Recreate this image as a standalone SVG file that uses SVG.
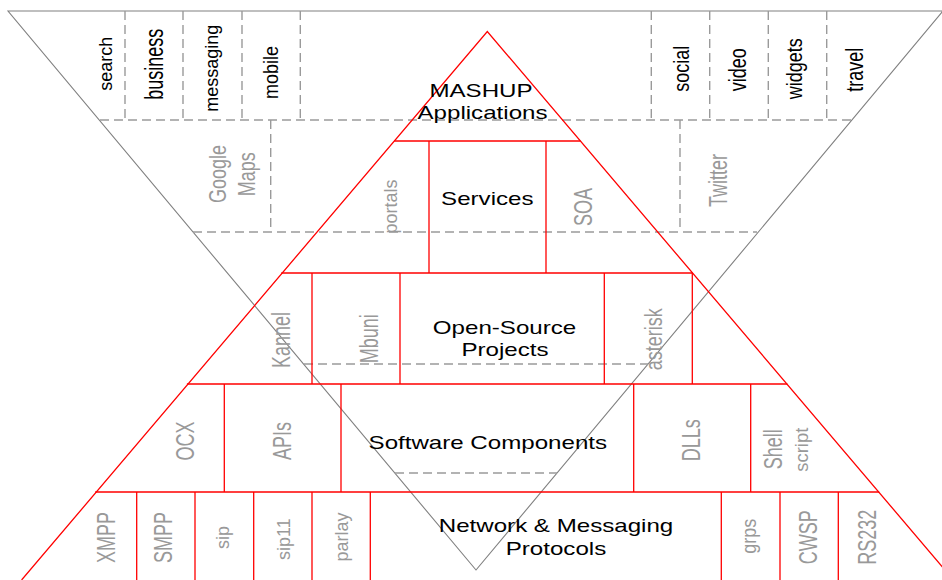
<svg xmlns="http://www.w3.org/2000/svg" width="942" height="580" viewBox="0 0 942 580">
<style>
.red{stroke:#ff0000;stroke-width:1.3;fill:none}
.inv{stroke:#808080;stroke-width:1.1;fill:none}
.dash{stroke:#9a9a9a;stroke-width:1.4;stroke-dasharray:9 5;fill:none}
text{font-family:"Liberation Sans",Arial,Helvetica,sans-serif;font-size:18px;text-anchor:middle}
.blk{fill:#000}
.gry{fill:#999}
</style>
<rect width="942" height="580" fill="#fff"/>
<g id="inverted-triangle">
<path class="inv" d="M8,11 L943,11 L476,570 Z"/>
</g>
<g id="inverted-dividers">
<path class="dash" d="M100,120 H852 M193,232 H757 M304,364 H648 M395,473 H557"/>
<path class="dash" d="M125,11 V120 M183,11 V120 M242,11 V120 M300.3,11 V120 M651.3,11 V120 M709.7,11 V120 M768.3,11 V120 M826.7,11 V120 M270.7,120 V232 M680,120 V232"/>
</g>
<g id="pyramid">
<path class="red" d="M21.6,580 L487.3,31.5 L953.5,580"/>
<path class="red" d="M394.3,141 H580.5 M281.3,273 H692.6 M186.9,384 H787.4 M95.2,492 H879.2"/>
<path class="red" d="M429,141 V273 M546,141 V273 M312,273 V384 M400,273 V384 M604.3,273 V384 M692.3,273 V384 M224.3,384 V492 M341,384 V492 M633.7,384 V492 M750.7,384 V492 M136.7,492 V580 M195,492 V580 M253.7,492 V580 M312,492 V580 M370.3,492 V580 M721.3,492 V580 M780,492 V580 M838.3,492 V580"/>
</g>
<g id="layer-mashup">
<text class="blk" transform="translate(481,97.3) scale(1.34,1)">MASHUP</text>
<text class="blk" transform="translate(482.5,118.5) scale(1.34,1)">Applications</text>
</g>
<g id="layer-services">
<text class="blk" transform="translate(487.3,205) scale(1.34,1)">Services</text>
</g>
<g id="layer-opensource">
<text class="blk" transform="translate(504.5,334.3) scale(1.34,1)">Open-Source</text>
<text class="blk" transform="translate(505,355.5) scale(1.34,1)">Projects</text>
</g>
<g id="layer-software">
<text class="blk" transform="translate(487.8,449) scale(1.34,1)">Software Components</text>
</g>
<g id="layer-network">
<text class="blk" transform="translate(556,531.7) scale(1.34,1)">Network &amp; Messaging</text>
<text class="blk" transform="translate(556,555) scale(1.34,1)">Protocols</text>
</g>
<g id="mashup-topics">
<text class="blk" transform="translate(112,63.8) scale(1.05,1) rotate(-90)">search</text>
<text class="blk" transform="translate(163.3,64.2) scale(1.43,1) rotate(-90)">business</text>
<text class="blk" transform="translate(218,68.2) scale(1.05,1) rotate(-90)">messaging</text>
<text class="blk" transform="translate(277.7,72.5) scale(1.1,1) rotate(-90)">mobile</text>
<text class="blk" transform="translate(689.3,68.8) scale(1.24,1) rotate(-90)">social</text>
<text class="blk" transform="translate(746,69.7) scale(1.37,1) rotate(-90)">video</text>
<text class="blk" transform="translate(802.2,68.8) scale(1.2,1) rotate(-90)">widgets</text>
<text class="blk" transform="translate(862.7,69.7) scale(1.37,1) rotate(-90)">travel</text>
</g>
<g id="service-examples">
<text class="gry" transform="translate(225.7,174) scale(1.35,1) rotate(-90)">Google</text>
<text class="gry" transform="translate(255,174.3) scale(1.34,1) rotate(-90)">Maps</text>
<text class="gry" transform="translate(397,206.5) scale(1.0,1) rotate(-90)">portals</text>
<text class="gry" transform="translate(591.7,207) scale(1.47,1) rotate(-90)">SOA</text>
<text class="gry" transform="translate(726.7,180.5) scale(1.45,1) rotate(-90)">Twitter</text>
</g>
<g id="opensource-examples">
<text class="gry" transform="translate(290,340) scale(1.4,1) rotate(-90)">Kannel</text>
<text class="gry" transform="translate(378.3,338.7) scale(1.47,1) rotate(-90)">Mbuni</text>
<text class="gry" transform="translate(662.3,339.2) scale(1.32,1) rotate(-90)">asterisk</text>
</g>
<g id="software-examples">
<text class="gry" transform="translate(194.3,441) scale(1.44,1) rotate(-90)">OCX</text>
<text class="gry" transform="translate(290.7,441) scale(1.4,1) rotate(-90)">APIs</text>
<text class="gry" transform="translate(700,440.3) scale(1.42,1) rotate(-90)">DLLs</text>
<text class="gry" transform="translate(781.7,449.3) scale(1.46,1) rotate(-90)">Shell</text>
<text class="gry" style="font-size:18.4px" transform="translate(807.8,449.7) scale(0.95,1) rotate(-90)">script</text>
</g>
<g id="network-examples">
<text class="gry" transform="translate(115,537.5) scale(1.42,1) rotate(-90)">XMPP</text>
<text class="gry" transform="translate(172.3,537.5) scale(1.42,1) rotate(-90)">SMPP</text>
<text class="gry" transform="translate(228.7,537.5) scale(1.0,1) rotate(-90)">sip</text>
<text class="gry" transform="translate(289.5,539.2) scale(1.0,1) rotate(-90)">sip11</text>
<text class="gry" transform="translate(347.9,537) scale(1.0,1) rotate(-90)">parlay</text>
<text class="gry" transform="translate(755.5,536.2) scale(1.1,1) rotate(-90)">grps</text>
<text class="gry" transform="translate(816.7,537.2) scale(1.42,1) rotate(-90)">CWSP</text>
<text class="gry" transform="translate(876,537.2) scale(1.47,1) rotate(-90)">RS232</text>
</g>
</svg>
